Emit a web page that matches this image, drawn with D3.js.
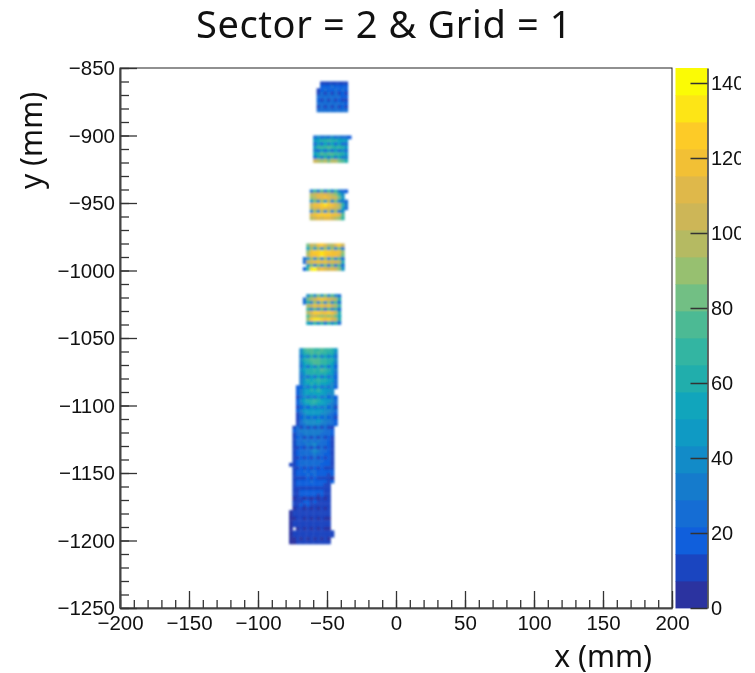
<!DOCTYPE html>
<html><head><meta charset="utf-8">
<script src="https://cdn.jsdelivr.net/npm/d3@7"></script>
<style>html,body{margin:0;padding:0;background:#fff}svg{display:block;filter:blur(0.4px)}</style>
</head><body><svg id="c" width="755" height="673"></svg>
<script>
const chartTitle = "Sector = 2 & Grid = 1";
const xLabel = "x (mm)";
const yLabel = "y (mm)";
const xTicks = [-200,-150,-100,-50,0,50,100,150,200];
const yTicks = [-1250,-1200,-1150,-1100,-1050,-1000,-950,-900,-850];
const zTicks = [0,20,40,60,80,100,120,140];
const zMax = 144;
const binSize = 2.5;
const bandColors = ["#2b33a0","#1a45c0","#105fdc","#156dd4","#157bcc","#128bc8","#0f9ac4","#11a5bc","#21aeac","#33b5a2",
  "#4cba94","#72bf84","#97c070","#b5ba62","#cdb657","#dfb84a","#f2c035","#fdcb27","#fde516","#fbfb05"];

const blockTops = [-860,-900,-940,-980,-1017.5,-1057.5];
const block1Start = [-55,-55,-57.5,-57.5,-57.5,-57.5,-57.5,-57.5,-57.5];
const block1 = [
[12,9,13,10,14,9,12,10],
[18,20,17,22,18,21,16,19],
[14,20,22,18,21,24,19,22,17],
[11,24,10,26,12,25,9,20,8],
[22,25,23,27,24,26,22,21,16],
[19,12,22,13,24,12,21,13,12],
[25,27,24,28,23,27,24,22,20],
[13,22,10,24,12,23,11,21,14],
[24,26,25,28,26,27,25,24,22]];
const block2Start = [-60,-60,-60,-60,-60,-60,-60,-60];
const block2 = [
[24,36,26,34,24,38,25,34,24,28,18],
[46,56,64,62,66,60,64,56,52,44],
[24,50,28,54,30,56,28,50,26,28],
[48,66,70,68,72,70,64,66,60,46],
[34,26,50,22,46,28,46,26,40,26],
[52,64,76,70,78,74,70,68,64,46],
[28,54,32,58,34,60,34,54,32,32],
[104,98,92,94,86,94,98,84,74,58]];
const block3Start = [-62.5,-62.5,-62.5,-62.5,-62.5,-62.5,-62.5,-62.5,-62.5];
const block3 = [
[32,68,30,74,34,70,32,66,30,26,20],
[95,104,110,108,114,106,100,92,70,40],
[90,100,110,114,120,110,104,104,80,48],
[44,86,38,90,44,94,40,84,36,30,22],
[104,116,120,124,130,124,118,112,100,66,30],
[100,110,114,118,116,112,110,104,94,56,24],
[40,90,36,96,38,94,38,88,32,42],
[108,118,124,128,124,124,120,116,108,76],
[100,104,108,102,112,108,104,96,92,66]];
const block4Start = [-65,-65,-65,-65,-67.5,-67.5,-65,-67.5];
const block4 = [
[86,104,96,118,128,108,100,96,110,126,104],
[52,92,44,90,42,92,44,88,42,80,34],
[92,118,124,128,132,126,124,122,118,122,92],
[94,116,122,126,130,124,122,118,116,114,82],
[24,50,92,42,90,38,88,38,84,38,72,26],
[22,106,114,118,116,122,118,112,114,110,102,64],
[44,84,34,82,36,80,34,80,32,74,26],
[20,70,136,138,112,116,114,106,108,102,92,44]];
const block5Start = [-65,-67.5,-67.5,-65,-65,-65,-65,-65,-65];
const block5 = [
[40,76,42,82,44,84,42,76,38,28],
[26,86,94,104,118,124,120,114,106,94,60],
[24,58,42,88,38,92,36,88,36,74,26],
[98,102,118,110,122,112,116,104,100,68],
[70,40,78,38,72,34,74,36,64,24],
[100,110,124,128,120,118,124,122,104,62],
[72,94,102,98,90,100,92,94,84,52],
[88,128,130,132,126,120,124,112,106,60],
[56,42,70,36,68,34,70,38,58,24]];
const block6Start = [-70,-70,-70,-70,-70,-70,-70,-70,-70,-70,-70,
-72.5,-72.5,-72.5,-72.5,-72.5,-72.5,-72.5,-72.5,-72.5,-72.5,-72.5,-72.5,
-75,-75,-75,-75,-75,-75,-75,-75,-75,-75,-75,-77.5,
-75,-75,-75,-75,-75,-75,-75,-75,-75,-75,-75,-75,-75,
-77.5,-77.5,-77.5,-77.5,-77.5,-77.5,-77.5,-77.5,-77.5,-77.5];
const block6 = [
[40,70,72,76,70,68,74,66,70,62,48],
[36,62,70,74,68,72,66,70,62,64,40],
[26,50,30,58,32,60,34,56,30,46,22],
[38,58,66,72,78,74,68,70,62,58,36],
[34,56,62,68,74,76,70,66,60,52,30],
[24,46,28,54,30,58,32,52,28,44,20],
[36,54,62,60,66,64,74,70,58,50,30],
[32,50,60,64,60,58,64,62,54,48,28],
[22,42,26,50,28,52,26,48,26,40,18],
[32,50,58,56,62,66,58,60,52,44,26],
[30,46,54,58,56,60,54,52,50,42,24],
[16,20,38,22,44,24,46,26,42,24,36,18],
[18,34,50,54,58,52,70,56,50,46,40],
[16,32,48,52,50,54,56,52,48,42,36],
[14,22,36,22,42,24,44,22,40,20,34,16],
[18,36,52,60,64,66,62,56,50,44,36,26],
[16,34,48,56,62,58,54,52,48,42,34,24],
[14,20,34,20,38,22,38,22,36,18,30,14],
[16,30,44,46,50,46,48,46,42,36,30,22],
[14,28,40,44,46,44,46,42,38,34,28,20],
[12,16,30,16,34,18,34,18,30,16,26,12],
[14,26,36,40,42,38,44,40,34,30,26,18],
[14,24,34,36,38,40,36,34,32,28,24,16],
[14,24,14,26,14,28,14,26,14,24,12,14],
[16,26,30,32,34,32,30,32,30,28,24,18],
[14,24,28,30,32,30,34,30,28,26,22,16],
[12,16,22,12,24,12,26,12,24,12,20,10],
[14,22,26,30,28,32,28,30,26,24,20,14],
[14,22,28,26,30,34,38,28,26,24,20,14],
[10,14,20,10,22,10,24,10,22,10,18,10],
[14,20,24,28,26,30,36,34,24,22,18,14],
[14,20,26,24,28,26,30,28,24,20,18,12],
[10,12,18,10,20,10,22,10,20,10,16,8],
[14,20,22,26,24,26,24,24,22,20,16,12],
[12,14,20,24,22,24,22,24,22,20,18,16,12],
[10,12,16,10,18,10,18,10,18,10,14,8],
[12,18,20,22,20,24,22,20,20,18,16,16],
[12,18,20,18,22,20,22,20,20,18,14,16],
[8,10,14,8,16,8,16,8,14,8,12,6],
[12,16,18,20,18,22,18,20,18,16,14,18],
[12,16,18,18,20,18,18,18,16,14,12],
[8,10,14,8,14,8,14,8,12,8,10],
[12,14,18,16,18,16,18,16,16,14,12],
[10,14,16,18,16,18,16,14,16,14,10],
[6,10,12,6,14,6,12,6,12,6,8],
[10,14,14,16,16,14,16,14,14,12,10],
[10,12,16,14,16,14,14,14,12,12,8],
[6,8,12,6,10,6,12,6,10,6,8],
[6,10,12,14,12,14,14,12,14,12,12,8],
[6,10,12,12,14,12,12,14,12,12,10,8],
[5,6,8,10,6,10,6,10,6,10,6,6],
[6,8,10,12,12,10,12,12,10,12,10,8],
[6,8,10,10,12,12,10,10,12,10,10,8],
[5,0,6,8,6,8,6,8,6,8,6,5],
[6,8,10,10,10,12,10,12,10,10,10,8,14],
[6,8,10,10,12,10,12,10,10,12,10,8,12],
[5,5,8,6,10,6,8,6,8,6,8,6],
[6,6,10,8,10,12,8,10,10,10,8,8]];

const blocks = [[block1,block1Start],[block2,block2Start],[block3,block3Start],[block4,block4Start],[block5,block5Start],[block6,block6Start]];

const sansTick = "'Liberation Sans',Arial,sans-serif";
const sansText = "'Noto Sans',sans-serif";
const svg = d3.select("#c");
const L=120,R=672,T=68,B=608;
const x = d3.scaleLinear().domain([-200,200]).range([L,R]);
const y = d3.scaleLinear().domain([-1250,-850]).range([B,T]);
const z = d3.scaleLinear().domain([0,zMax]).range([B,T]);
const color = d3.scaleQuantize().domain([0,zMax]).range(bandColors);

const defs = svg.append("defs");
defs.append("filter").attr("id","soft").append("feGaussianBlur").attr("stdDeviation",0.85);
defs.append("clipPath").attr("id","cbl").append("rect").attr("x",-40).attr("y",50).attr("width",73.5).attr("height",600);

const cells=[];
blocks.forEach(([rows,starts],b)=>rows.forEach((vals,r)=>vals.forEach((v,c)=>{
  if(v>0) cells.push({x0:starts[r]+c*binSize,y0:blockTops[b]-r*binSize,v});
})));
svg.append("g").attr("filter","url(#soft)").selectAll("rect").data(cells).join("rect")
  .attr("x",d=>x(d.x0)).attr("y",d=>y(d.y0))
  .attr("width",d=>x(d.x0+binSize)-x(d.x0)+0.4)
  .attr("height",d=>y(d.y0-binSize)-y(d.y0)+0.4)
  .attr("fill",d=>color(d.v));

const bandEdges = d3.range(bandColors.length).map(i=>i*zMax/bandColors.length);
svg.append("g").selectAll("rect").data(bandEdges).join("rect")
  .attr("x",675.5).attr("width",32)
  .attr("y",d=>z(d+zMax/bandColors.length)).attr("height",d=>z(d)-z(d+zMax/bandColors.length)+0.4)
  .attr("fill",d=>color(d+0.1));

function style(g,size){
  g.selectAll("path").attr("stroke","#444").attr("stroke-width",1.6);
  g.selectAll("line").attr("stroke","#333").attr("stroke-width",1.3);
  g.selectAll("text").attr("font-family",sansTick).attr("font-size",size).attr("fill","#111");
}
const fmt = d=>String(d).replace("-","\u2212");
const minorOf = (a,b,s)=>d3.range(a,b+s/2,s);

svg.append("rect").attr("x",L).attr("y",T).attr("width",R-L).attr("height",B-T).attr("fill","none").attr("stroke","#222").attr("stroke-width",1);

const gx = svg.append("g").attr("transform",`translate(0,${B})`);
gx.call(d3.axisBottom(x).tickValues(minorOf(-200,200,10)).tickSize(-8).tickFormat("").tickSizeOuter(0)); style(gx,20.5);
const gxM = svg.append("g").attr("transform",`translate(0,${B})`);
gxM.call(d3.axisBottom(x).tickValues(xTicks).tickSize(-17).tickPadding(7).tickFormat(fmt).tickSizeOuter(0)); style(gxM,20.5);

const gy = svg.append("g").attr("transform",`translate(${L},0)`);
gy.call(d3.axisLeft(y).tickValues(minorOf(-1250,-850,10)).tickSize(-9).tickFormat("").tickSizeOuter(0)); style(gy,20.5);
const gyM = svg.append("g").attr("transform",`translate(${L},0)`);
gyM.call(d3.axisLeft(y).tickValues(yTicks).tickSize(-17).tickPadding(5).tickFormat(fmt).tickSizeOuter(0)); style(gyM,20.5);

const gz = svg.append("g").attr("transform","translate(707.5,0)");
gz.call(d3.axisRight(z).tickValues(zTicks).tickSize(-17).tickPadding(3.5).tickFormat(d=>d).tickSizeOuter(0));
style(gz,20);
gz.attr("clip-path","url(#cbl)");

svg.append("text").attr("x",384).attr("y",38).attr("text-anchor","middle").attr("font-family",sansText).attr("font-size",38).attr("letter-spacing",0.6).attr("fill","#111").text(chartTitle);
svg.append("text").attr("x",652).attr("y",667).attr("text-anchor","end").attr("font-family",sansText).attr("font-size",30).attr("fill","#111").text(xLabel);
svg.append("text").attr("transform","translate(42,189) rotate(-90)").attr("text-anchor","start").attr("font-family",sansText).attr("font-size",30).attr("fill","#111").text(yLabel);
</script></body></html>
